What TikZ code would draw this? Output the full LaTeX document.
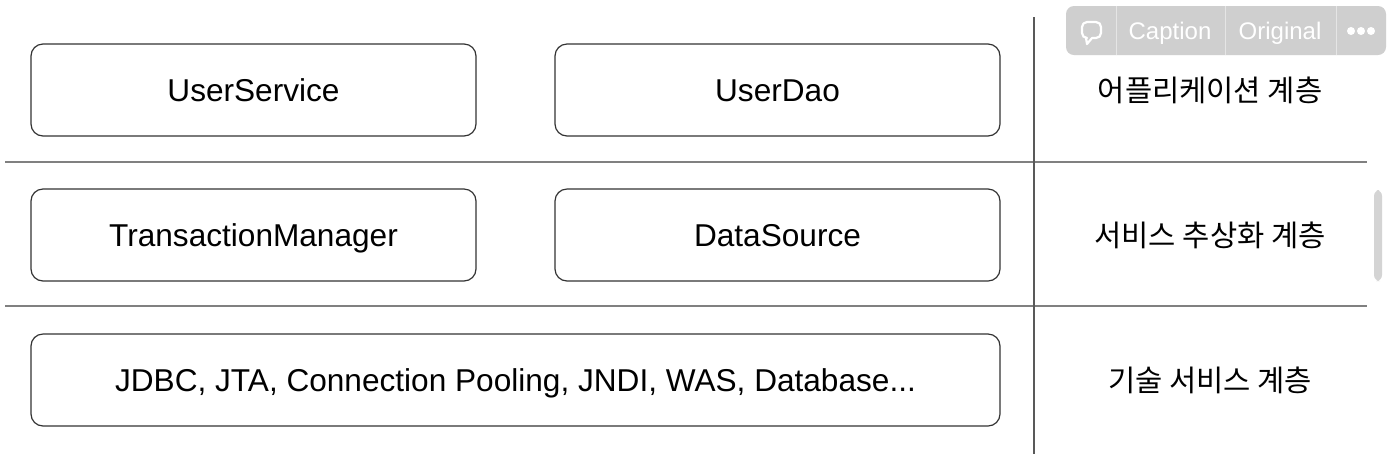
\documentclass[tikz,border=0pt]{standalone}
\usepackage{fontspec}
\setmainfont{Liberation Sans}
\newfontfamily\kr{Noto Sans CJK KR}
\begin{document}
\begin{tikzpicture}[x=0.5pt,y=-0.5pt,
  box/.style={draw=black!80, line width=0.6pt, rounded corners=6pt, fill=white,
    minimum height=46pt, inner sep=0pt, text height=11pt, text depth=0pt,
    font=\fontsize{15.8}{18}\selectfont},
  halfbox/.style={box, minimum width=222.5pt},
  fullbox/.style={box, minimum width=484.5pt},
  layer/.style={font=\kr\fontsize{14.8}{17}\selectfont, text=black},
  sep/.style={draw=black!50, line width=0.9pt},
  ui/.style={font=\fontsize{12}{14}\selectfont, text=white}]
\useasboundingbox (0,0) rectangle (1392,468);
\fill[white] (0,0) rectangle (1392,468);
% layer separators
\coordinate (h1l) at (5,162); \coordinate (h1r) at (1367,162);
\coordinate (h2l) at (5,306); \coordinate (h2r) at (1367,306);
\coordinate (vt) at (1034,17); \coordinate (vb) at (1034,454);
\draw[sep] (h1l) -- (h1r);
\draw[sep] (h2l) -- (h2r);
\draw[draw=black!65, line width=0.8pt] (vt) -- (vb);
% boxes
\node[halfbox] (us) at (253.5,90) {UserService};
\node[halfbox] (ud) at (777.5,90) {UserDao};
\node[halfbox] (tm) at (253.5,235) {TransactionManager};
\node[halfbox] (ds) at (777.5,235) {DataSource};
\node[fullbox] (jd) at (515.5,380) {JDBC, JTA, Connection Pooling, JNDI, WAS, Database...};
% layer labels
\node[layer] (l1) at (1210,90) {어플리케이션 계층};
\node[layer] (l2) at (1210,235) {서비스 추상화 계층};
\node[layer] (l3) at (1210,380) {기술 서비스 계층};
% UI overlay
\fill[black!19, rounded corners=4pt] (1066,6) rectangle (1386,55);
\draw[white!90!black, line width=0.5pt] (1116,6) -- (1116,55);
\draw[white!90!black, line width=0.5pt] (1225,6) -- (1225,55);
\draw[white!90!black, line width=0.5pt] (1336,6) -- (1336,55);
\draw[white, line width=1.1pt, line join=round]
  (1086,38) [rounded corners=2.5pt] -- (1082,38) -- (1082,22) -- (1101,22) -- (1101,38) [sharp corners] -- (1092,38) -- (1087,44) -- cycle;
\node[ui] (cap) at (1170,33) {Caption};
\node[ui] (orig) at (1280,33) {Original};
\fill[white] (1351,31) circle (2pt) (1361,31) circle (2pt) (1371,31) circle (2pt);
% scrollbar
\fill[black!17, rounded corners=3pt] (1374,190) rectangle (1382,281);
\end{tikzpicture}
\end{document}
